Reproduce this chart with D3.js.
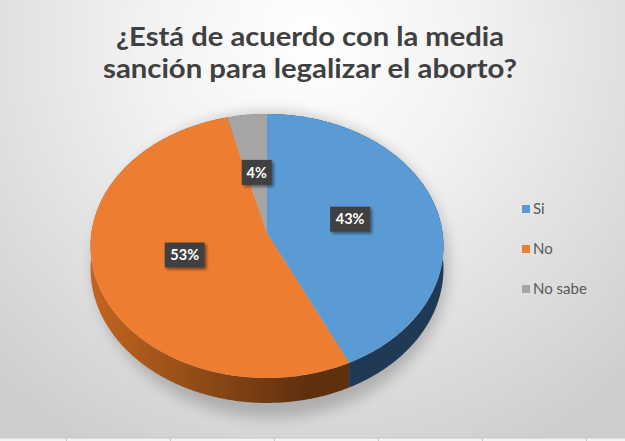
<!DOCTYPE html>
<head>
  <meta charset="utf-8">
  <style>
    html, body { margin: 0; padding: 0; overflow: hidden; }
    body { width: 625px; height: 441px; }
    svg { display: block; }
  </style>
  <script src="https://cdn.jsdelivr.net/npm/d3@7"></script>
</head>
<body>
<div id=chart-container></div>
<script>
// data
const categories = ['Si', 'No', 'No sabe']
const shares = [43, 53, 4]
const labels = ['43%', '53%', '4%']
const title_lines = ['¿Está de acuerdo con la media', 'sanción para legalizar el aborto?']

const width = 625
const height = 441

const top_colors = ['#5b9bd5', '#ed7d31', '#a5a5a5']
const side_colors = [['#2f5478', '#203a55'], ['#c2651f', '#5f300e'], ['#7a7a7a', '#5e5e5e']]

// pie geometry (perspective-tilted disk)
const cx = 267, cy = 233
const rx = 175.6, ky = 130.7
const persp = 0.0985
const depth = 22.5

// theta: clockwise from 12 o'clock, f: fraction of radius, drop: wall depth
const proj = (theta, f = 1, drop = 0) => {
  const p = -Math.cos(theta) * f
  const u = Math.sin(theta) * f
  const s = 1 / (1 - persp * p)
  return [cx + rx * u * s, cy + (ky * p + drop) * s]
}
const rim = (a0, a1, drop = 0) => {
  const n = Math.max(2, Math.ceil((a1 - a0) / 0.01))
  return d3.range(n + 1).map(i => proj(a0 + (a1 - a0) * i / n, 1, drop))
}

const svg = d3.create('svg')
  .attr('width', width)
  .attr('height', height)
  .attr('viewBox', [0, 0, width, height])
  .style('font-family', 'Lato, "Open Sans", sans-serif')
document.querySelector('#chart-container').append(svg.node())

const defs = svg.append('defs')
const bg = defs.append('radialGradient')
  .attr('id', 'bg')
  .attr('gradientUnits', 'userSpaceOnUse')
  .attr('cx', 310).attr('cy', 40).attr('r', 470)
bg.append('stop').attr('offset', 0).attr('stop-color', '#ffffff')
bg.append('stop').attr('offset', 0.35).attr('stop-color', '#f2f2f2')
bg.append('stop').attr('offset', 1).attr('stop-color', '#cdcdcd')

defs.append('filter').attr('id', 'blur')
  .attr('x', '-20%').attr('y', '-20%').attr('width', '140%').attr('height', '140%')
  .append('feGaussianBlur').attr('stdDeviation', 7)

const box_shadow = defs.append('filter').attr('id', 'box-shadow')
  .attr('x', '-30%').attr('y', '-30%').attr('width', '160%').attr('height', '160%')
box_shadow.append('feDropShadow')
  .attr('dx', 2).attr('dy', 2).attr('stdDeviation', 1.5)
  .attr('flood-color', '#000').attr('flood-opacity', 0.45)

side_colors.forEach((c, i) => {
  const g = defs.append('linearGradient')
    .attr('id', `side-${i}`)
    .attr('gradientUnits', 'userSpaceOnUse')
    .attr('x1', cx - rx).attr('x2', cx + 40).attr('y1', 0).attr('y2', 0)
  g.append('stop').attr('offset', 0).attr('stop-color', c[0])
  g.append('stop').attr('offset', 1).attr('stop-color', c[1])
})

// background
svg.append('rect')
  .attr('width', width).attr('height', height)
  .attr('fill', 'url(#bg)')

// spreadsheet strip at the bottom
svg.append('rect')
  .attr('x', 0).attr('y', 438).attr('width', width).attr('height', 3)
  .attr('fill', '#f4f4f4')
svg.append('line')
  .attr('x1', 0).attr('x2', width).attr('y1', 438).attr('y2', 438)
  .attr('stroke', '#c6c6c6')
svg.append('g')
  .selectAll('line')
  .data(d3.range(66.5, width, 104))
  .join('line')
    .attr('x1', d => d).attr('x2', d => d)
    .attr('y1', 438).attr('y2', 441)
    .attr('stroke', '#c6c6c6')

// title
svg.append('g')
  .selectAll('text')
  .data(title_lines)
  .join('text')
    .attr('x', 310)
    .attr('y', (d, i) => 46 + i * 32)
    .attr('text-anchor', 'middle')
    .attr('font-size', 27)
    .attr('font-weight', 'bold')
    .attr('fill', '#404040')
    .attr('textLength', (d, i) => i ? 414 : 388)
    .attr('lengthAdjust', 'spacingAndGlyphs')
    .text(d => d)

// soft shadow under the pie
svg.append('ellipse')
  .attr('cx', cx + 4).attr('cy', cy + 32)
  .attr('rx', rx + 2).attr('ry', ky + 22)
  .attr('fill', '#000')
  .attr('opacity', 0.2)
  .attr('filter', 'url(#blur)')

const pie = d3.pie().sort(null).value(d => d)
const arcs = pie(shares)
const line = d3.line()

// walls first, the top faces hide the back ones
svg.append('g')
  .selectAll('path')
  .data(arcs)
  .join('path')
    .attr('d', d => line(rim(d.startAngle, d.endAngle).concat(rim(d.startAngle, d.endAngle, depth).reverse())) + 'Z')
    .attr('fill', (d, i) => `url(#side-${i})`)

svg.append('g')
  .selectAll('path')
  .data(arcs)
  .join('path')
    .attr('d', d => line([proj(0, 0)].concat(rim(d.startAngle, d.endAngle))) + 'Z')
    .attr('fill', (d, i) => top_colors[i])

// data labels
const label_g = svg.append('g')
  .selectAll('g')
  .data(arcs)
  .join('g')
    .attr('transform', d => {
      const [x, y] = proj((d.startAngle + d.endAngle) / 2, 0.49)
      return `translate(${x},${y})`
    })
label_g.append('rect')
  .attr('x', (d, i) => labels[i].length > 2 ? -20 : -15)
  .attr('width', (d, i) => labels[i].length > 2 ? 40 : 30)
  .attr('y', -12.5).attr('height', 25)
  .attr('fill', '#404040')
  .attr('filter', 'url(#box-shadow)')
label_g.append('text')
  .attr('text-anchor', 'middle')
  .attr('dy', '0.36em')
  .attr('font-size', 14.5)
  .attr('font-weight', 'bold')
  .attr('fill', '#fff')
  .text((d, i) => labels[i])

// legend
const legend_y = d3.scalePoint().domain(categories).range([209, 289])
const legend = svg.append('g')
  .selectAll('g')
  .data(categories)
  .join('g')
    .attr('transform', d => `translate(522,${legend_y(d)})`)
legend.append('rect')
  .attr('x', 0).attr('y', -4).attr('width', 8).attr('height', 8)
  .attr('fill', (d, i) => top_colors[i])
legend.append('text')
  .attr('x', 11)
  .attr('dy', '0.36em')
  .attr('font-size', 15)
  .attr('fill', '#595959')
  .text(d => d)
</script>
</body>
